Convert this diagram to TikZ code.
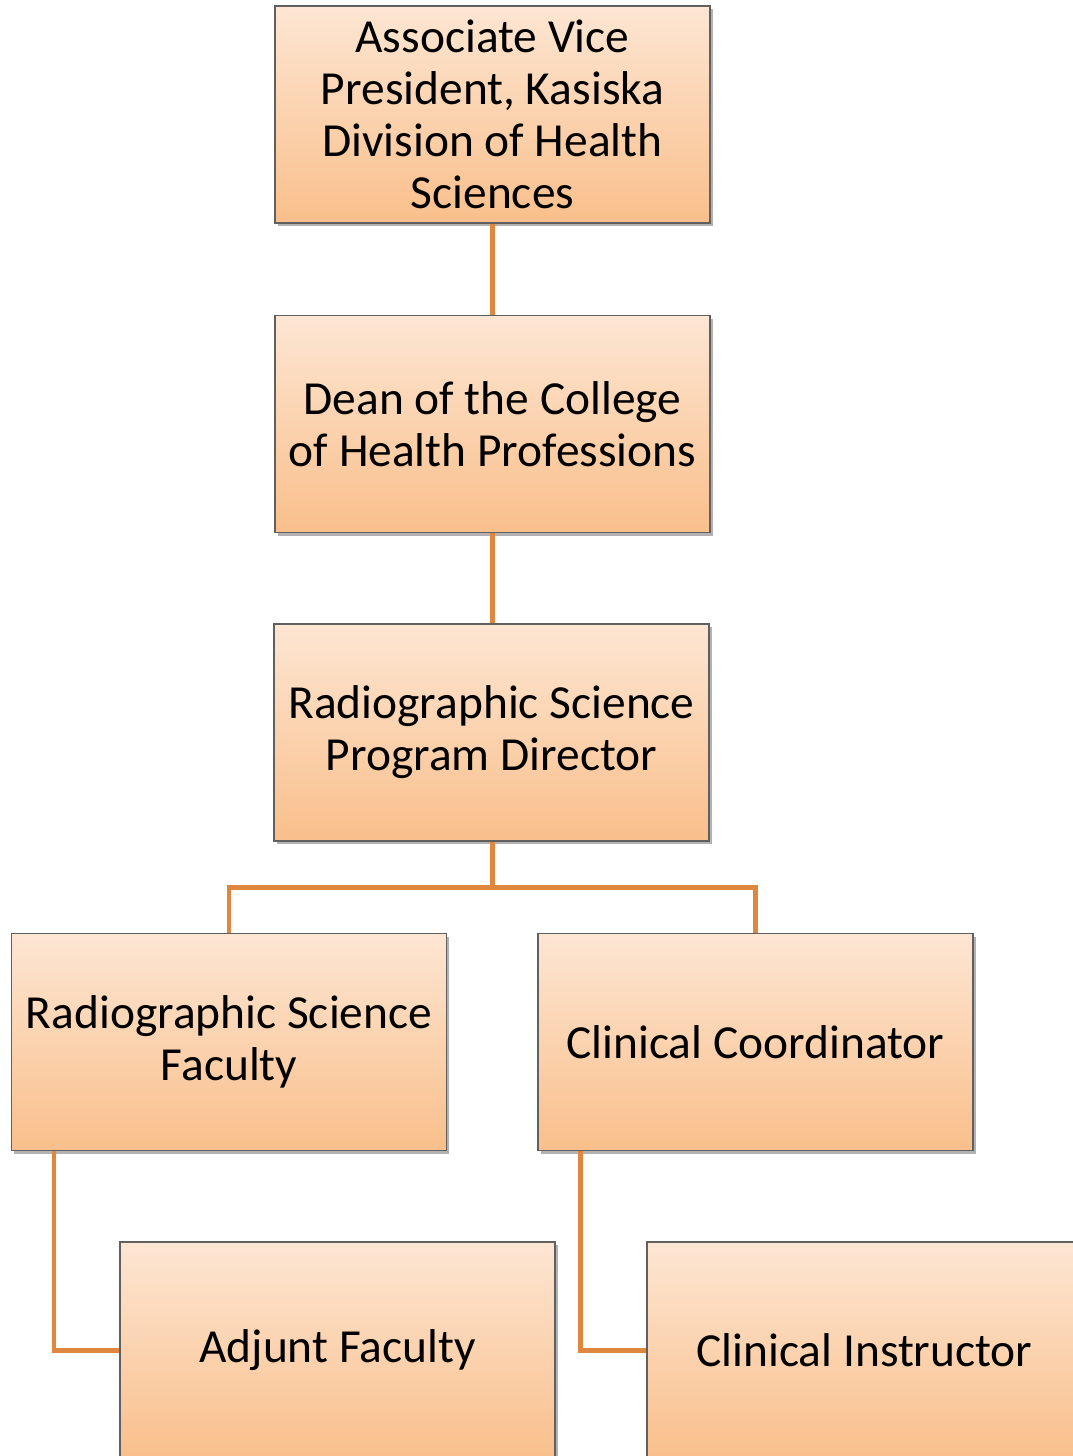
\documentclass[tikz,border=0pt]{standalone}
\usepackage{fontspec}
\setmainfont{Carlito}
\usepackage{tikz}
\usetikzlibrary{positioning, shadows}
\definecolor{boxtop}{HTML}{FDE6D3}
\definecolor{boxbot}{HTML}{F9BF8B}
\definecolor{linkorange}{HTML}{E0873F}

\begin{document}
\begin{tikzpicture}[
    box/.style={rectangle, draw=gray!75!black, line width=0.6pt, top color=boxtop, bottom color=boxbot,
      minimum width=8.7cm, minimum height=4.34cm, align=center, inner sep=2pt,
      font=\fontsize{27}{29.5}\selectfont,
      drop shadow={shadow xshift=0.05cm, shadow yshift=-0.06cm, fill=black, opacity=0.3}},
    link/.style={draw=linkorange, line width=2.8pt}]
  \clip (0,0) rectangle (21.46,-29.12);
  \node[box] (avp) at (9.85,-2.29) {Associate Vice\\President, Kasiska\\Division of Health\\Sciences};
  \node[box] (dean) at (9.85,-8.48) {Dean of the College\\of Health Professions};
  \node[box] (dir) at (9.83,-14.65) {Radiographic Science\\Program Director};
  \node[box] (fac) at (4.58,-20.84) {Radiographic Science\\Faculty};
  \node[box] (coord) at (15.11,-20.84) {Clinical Coordinator};
  \node[box] (adj) at (6.75,-27.01) {Adjunt Faculty};
  \node[box] (inst) at (17.29,-27.01) {Clinical Instructor};
  \draw[link] (avp.south) -- (dean.north);
  \draw[link] (dean.south) -- (dean.south |- dir.north);
  \draw[link] (dean.south |- dir.south) -- ++(0,-0.92) coordinate (split);
  \draw[link] (fac.north) |- (split) -| (coord.north);
  \draw[link] ([xshift=0.86cm]fac.south west) |- (adj.west);
  \draw[link] ([xshift=0.86cm]coord.south west) |- (inst.west);
\end{tikzpicture}
\end{document}
